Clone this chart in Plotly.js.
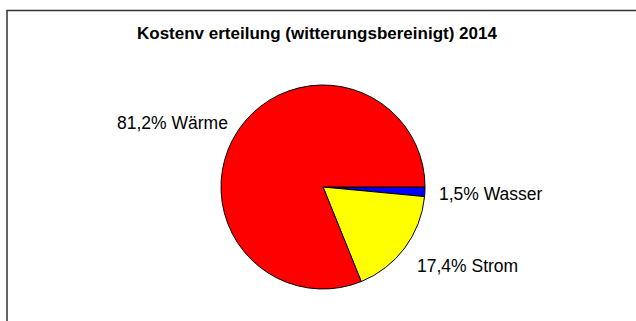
<!DOCTYPE html>
<html>
<head>
<meta charset="utf-8">
<script src="https://cdn.plot.ly/plotly-3.0.1.min.js"></script>
<style>html,body{margin:0;padding:0;background:#fff;}#chart{width:636px;height:321px;}</style>
</head>
<body>
<div id="chart"></div>
<script>
const categories = ["Wasser", "Strom", "Wärme"];
const shares = [1.5, 17.4, 81.2];
const colors = ["#0000ff", "#ffff00", "#ff0000"];
const titleText = "Kostenv erteilung (witterungsbereinigt) 2014";

const W = 636, H = 321;
function px(x){ return x / W; }
function py(y){ return 1 - y / H; }
function fmt(v){ return v.toFixed(1).replace('.', ',') + '%'; }

const labelPos = [
  {x: 437, y: 194, anchor: 'left'},
  {x: 415, y: 266, anchor: 'left'},
  {x: 230, y: 123, anchor: 'right'}
];

const annotations = categories.map((c, i) => ({
  text: fmt(shares[i]) + ' ' + c,
  xref: 'paper', yref: 'paper',
  x: px(labelPos[i].x), y: py(labelPos[i].y),
  xanchor: labelPos[i].anchor, yanchor: 'middle',
  showarrow: false,
  font: {family: 'Liberation Sans, Arial, sans-serif', size: 17.5, color: '#000'}
}));
annotations.push({
  text: '<b>' + titleText + '</b>',
  xref: 'paper', yref: 'paper',
  x: px(316.5), y: py(33), xanchor: 'center', yanchor: 'middle',
  showarrow: false,
  font: {family: 'Liberation Sans, Arial, sans-serif', size: 17, color: '#000'}
});

const cx = 323, cy = 187, r = 102;
const data = [{
  type: 'pie',
  labels: categories,
  values: shares,
  sort: false,
  direction: 'clockwise',
  rotation: 90,
  textinfo: 'none',
  hoverinfo: 'label+value',
  marker: {colors: colors, line: {color: '#000', width: 1}},
  domain: {x: [px(cx - r), px(cx + r)], y: [py(cy + r), py(cy - r)]},
  showlegend: false
}];

const layout = {
  width: W, height: H,
  margin: {l: 0, r: 0, t: 0, b: 0},
  paper_bgcolor: '#fff',
  showlegend: false,
  annotations: annotations,
  shapes: [{
    type: 'rect', xref: 'paper', yref: 'paper',
    x0: px(7), x1: px(700), y0: py(400), y1: py(10.5),
    line: {color: '#333', width: 1.5}, fillcolor: 'rgba(0,0,0,0)'
  }]
};

Plotly.newPlot('chart', data, layout, {staticPlot: true});
</script>
</body>
</html>
